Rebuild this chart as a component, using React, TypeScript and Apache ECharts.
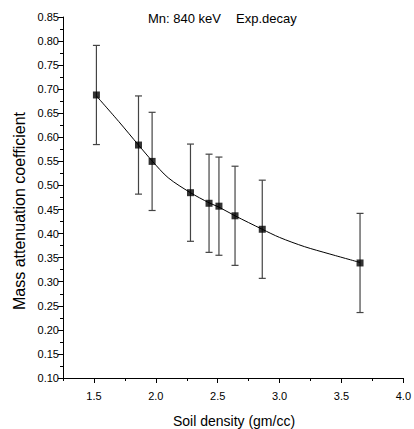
import React, { useEffect, useRef } from "react";
import * as echarts from "echarts";

const densities = [1.52, 1.86, 1.97, 2.28, 2.43, 2.51, 2.64, 2.86, 3.65];
const coefficients = [0.688, 0.584, 0.55, 0.485, 0.463, 0.457, 0.437, 0.409, 0.339];
const errors = [0.103, 0.102, 0.102, 0.101, 0.102, 0.102, 0.103, 0.102, 0.103];
const fitX = [1.52, 1.7, 1.86, 1.97, 2.1, 2.28, 2.43, 2.51, 2.64, 2.86, 3.0, 3.2, 3.4, 3.65];
const fitY = [0.686, 0.633, 0.584, 0.551, 0.516, 0.485, 0.464, 0.455, 0.437, 0.409, 0.392, 0.373, 0.358, 0.34];
const xMajorTicks = [1.5, 2.0, 2.5, 3.0, 3.5, 4.0];

const FONT = "Liberation Sans, Arial, sans-serif";

export default function App() {
  const ref = useRef<HTMLDivElement>(null);
  useEffect(() => {
    if (!ref.current) return;
    const chart = echarts.init(ref.current, null, { renderer: "svg" });
    const errData = densities.map((x, i) => [x, coefficients[i] - errors[i], coefficients[i] + errors[i]]);
    chart.setOption({
      animation: false,
      backgroundColor: "#ffffff",
      textStyle: { fontFamily: FONT },
      grid: { left: 63, right: 10, top: 17, bottom: 51 },
      xAxis: [
        {
          type: "value",
          min: 1.25,
          max: 4.0,
          interval: 0.25,
          position: "bottom",
          axisLine: { show: true, onZero: false, lineStyle: { color: "#000", width: 1 } },
          axisTick: { show: true, length: 5, customValues: xMajorTicks, lineStyle: { color: "#000" } },
          axisLabel: {
            show: true,
            customValues: xMajorTicks,
            margin: 12,
            color: "#000",
            fontSize: 11,
            fontFamily: FONT,
            formatter: (v: number) => v.toFixed(1),
          },
          splitLine: { show: false },
        },
        {
          type: "value",
          min: 1.25,
          max: 4.0,
          interval: 0.25,
          position: "bottom",
          offset: 0,
          axisLine: { show: false },
          axisTick: { show: true, length: 3, lineStyle: { color: "#000" } },
          axisLabel: { show: false },
          splitLine: { show: false },
        },
      ],
      yAxis: {
        type: "value",
        min: 0.1,
        max: 0.85,
        interval: 0.05,
        axisLine: { show: true, onZero: false, lineStyle: { color: "#000", width: 1 } },
        axisTick: { show: true, length: 5, lineStyle: { color: "#000" } },
        minorTick: { show: true, splitNumber: 2, length: 3, lineStyle: { color: "#000" } },
        axisLabel: {
          color: "#000",
          fontSize: 11,
          margin: 4,
          fontFamily: FONT,
          formatter: (v: number) => v.toFixed(2),
        },
        splitLine: { show: false },
      },
      graphic: [
        {
          type: "text",
          left: 148,
          top: 12,
          style: { text: "Mn: 840 keV", fill: "#000", font: `13px ${FONT}` },
        },
        {
          type: "text",
          left: 236,
          top: 12,
          style: { text: "Exp.decay", fill: "#000", font: `13px ${FONT}` },
        },
        {
          type: "text",
          x: 19,
          y: 211,
          rotation: Math.PI / 2,
          style: {
            text: "Mass attenuation coefficient",
            fill: "#000",
            font: `16px ${FONT}`,
            align: "center",
            verticalAlign: "middle",
          },
        },
        {
          type: "text",
          x: 234,
          y: 421,
          style: {
            text: "Soil density (gm/cc)",
            fill: "#000",
            font: `14px ${FONT}`,
            align: "center",
            verticalAlign: "middle",
          },
        },
      ],
      series: [
        {
          type: "custom",
          xAxisIndex: 0,
          data: errData,
          renderItem: (params: any, api: any) => {
            const x = api.value(0);
            const lo = api.coord([x, api.value(1)]);
            const hi = api.coord([x, api.value(2)]);
            const hw = 3.5;
            const style = { stroke: "#444", lineWidth: 1.2 };
            return {
              type: "group",
              children: [
                { type: "line", shape: { x1: lo[0], y1: lo[1], x2: hi[0], y2: hi[1] }, style },
                { type: "line", shape: { x1: lo[0] - hw, y1: lo[1], x2: lo[0] + hw, y2: lo[1] }, style },
                { type: "line", shape: { x1: hi[0] - hw, y1: hi[1], x2: hi[0] + hw, y2: hi[1] }, style },
              ],
            };
          },
          z: 2,
        },
        {
          type: "line",
          xAxisIndex: 0,
          data: fitX.map((x, i) => [x, fitY[i]]),
          smooth: 0.3,
          showSymbol: false,
          lineStyle: { color: "#000", width: 1 },
          z: 3,
        },
        {
          type: "scatter",
          xAxisIndex: 0,
          data: densities.map((x, i) => [x, coefficients[i]]),
          symbol: "rect",
          symbolSize: 7,
          itemStyle: { color: "#000" },
          z: 4,
        },
      ],
    });
    return () => chart.dispose();
  }, []);
  return <div ref={ref} style={{ width: 414, height: 429, position: "absolute", left: 0, top: 0 }} />;
}
